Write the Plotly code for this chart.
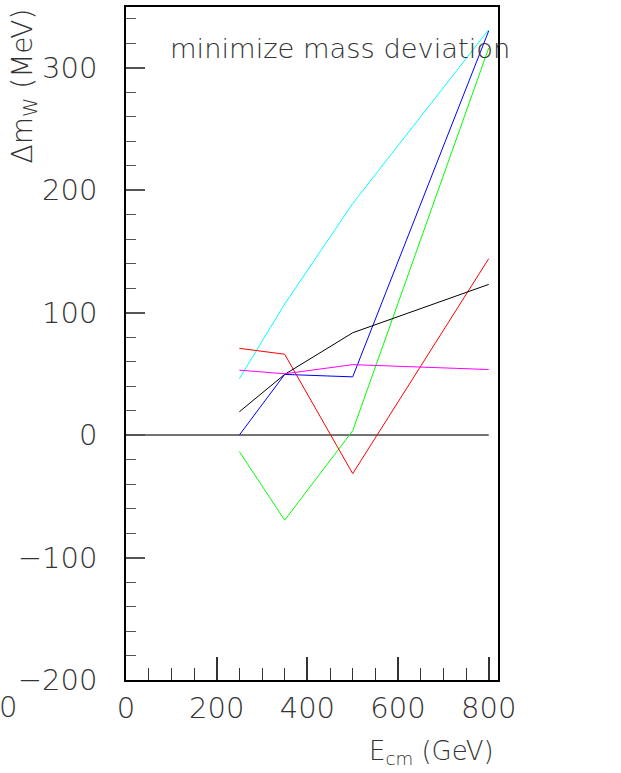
import plotly.graph_objects as go

# Data
energies = [250, 350, 500, 800]
cyan_vals = [46, 107, 189, 331]
blue_vals = [0, 49.5, 47.5, 330]
green_vals = [-13.5, -69.5, 3.5, 316]
red_vals = [70.8, 66, -31.5, 144]
black_vals = [19, 49.5, 83.5, 123]
magenta_vals = [53, 50, 57.5, 53.5]
zero_x = [0, 800]
zero_y = [0, 0]

x_ticks = [0, 200, 400, 600, 800]
y_ticks = [-200, -100, 0, 100, 200, 300]

FONT = "DejaVu Sans"
TXT = "#333333"
W = 200

def f(size):
    return dict(family=FONT, size=size, color=TXT, weight=W)

fig = go.Figure()
fig.add_trace(go.Scatter(x=zero_x, y=zero_y, mode="lines",
                         line=dict(color="#444444", width=1.5), showlegend=False))
series = [
    (cyan_vals, "#00FFFF"),
    (blue_vals, "#0000FF"),
    (green_vals, "#00FF00"),
    (red_vals, "#FF0000"),
    (black_vals, "#000000"),
    (magenta_vals, "#FF00FF"),
]
for vals, col in series:
    fig.add_trace(go.Scatter(x=energies, y=vals, mode="lines",
                             line=dict(color=col, width=1), showlegend=False))

fig.update_layout(
    width=621, height=773,
    margin=dict(l=126, r=123, t=5, b=93),
    paper_bgcolor="white", plot_bgcolor="white",
    font=f(28),
    xaxis=dict(
        range=[0, 820.5], showgrid=False, zeroline=False,
        tickmode="array", tickvals=x_ticks, ticktext=[str(v) for v in x_ticks],
        ticks="inside", ticklen=23, tickwidth=1.5, tickcolor="#333333",
        minor=dict(dtick=50, tick0=0, ticks="inside", ticklen=12, tickwidth=1, tickcolor="#333333", showgrid=False),
        showline=True, linecolor="black", linewidth=1.5, mirror=True,
        tickfont=f(29),
        ticklabelstandoff=1,
    ),
    yaxis=dict(
        range=[-200, 349.5], showgrid=False, zeroline=False,
        tickmode="array", tickvals=y_ticks, ticktext=[("\u2212" + str(-v)) if v < 0 else str(v) for v in y_ticks],
        ticks="inside", ticklen=19, tickwidth=1.5, tickcolor="#555555",
        minor=dict(dtick=20, tick0=0, ticks="inside", ticklen=10, tickwidth=1, tickcolor="#555555", showgrid=False),
        showline=True, linecolor="black", linewidth=1.5, mirror=True,
        tickfont=f(29),
        ticklabelstandoff=21,
    ),
    annotations=[
        dict(text="minimize mass deviation", xref="paper", yref="paper",
             x=(168 - 126) / 372, y=1 - (47 - 5) / 675, xanchor="left", yanchor="middle",
             showarrow=False, font=f(27.3)),
        dict(text="E<sub>cm</sub> (GeV)", xref="paper", yref="paper",
             x=(496 - 126) / 372, y=-(753 - 680) / 675, xanchor="right", yanchor="middle",
             showarrow=False, font=f(26)),
        dict(text="\u0394m<sub>W</sub> (MeV)", xref="paper", yref="paper",
             x=(24 - 126) / 372, y=1, xanchor="center", yanchor="top",
             textangle=-90, showarrow=False, font=f(28)),
        dict(text="0", xref="paper", yref="paper",
             x=(8 - 126) / 372, y=-(707 - 680) / 675, xanchor="center", yanchor="middle",
             showarrow=False, font=f(29)),
    ],
)

fig.write_html("out.html")
